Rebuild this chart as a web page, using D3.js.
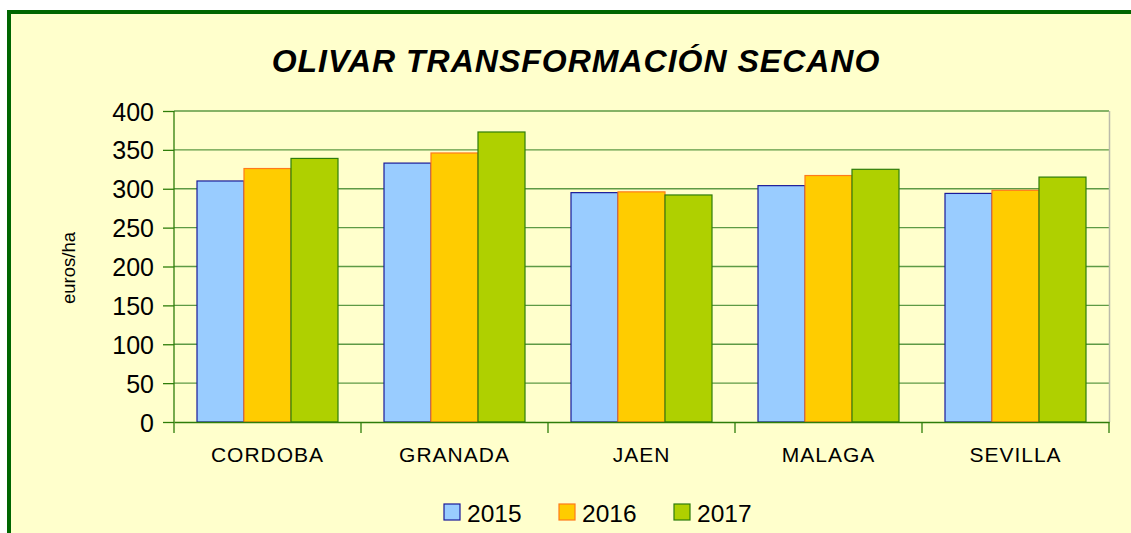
<!DOCTYPE html>
<html>
<head>
<meta charset="utf-8">
<script src="https://cdn.jsdelivr.net/npm/d3@7"></script>
<style>
  body { margin: 0; background: #fff; }
  svg { display: block; font-family: Arial, "Liberation Sans", sans-serif; }
</style>
</head>
<body>
<div class="chart"></div>
<script>
// chart data
const provincias = ['CORDOBA', 'GRANADA', 'JAEN', 'MALAGA', 'SEVILLA'];
const years = ['2015', '2016', '2017'];
const v2015 = [310, 333, 295, 304, 294];
const v2016 = [326, 346, 296, 317, 298];
const v2017 = [339, 373, 292, 325, 315];
const yTicks = [0, 50, 100, 150, 200, 250, 300, 350, 400];

const fills = ['#99CCFF', '#FFCC00', '#AFD000'];
const strokes = ['#1A1A99', '#FF7A1A', '#2E7D0A'];

const width = 1131, height = 533;
const svg = d3.select('.chart').append('svg').attr('width', width).attr('height', height);

// outer frame
svg.append('rect').attr('x', 9).attr('y', 12).attr('width', width + 20).attr('height', height + 20)
    .attr('fill', '#FFFFCC').attr('stroke', '#006600').attr('stroke-width', 4);

const plot = { left: 174, right: 1109, top: 111, bottom: 422 };

const x = d3.scaleBand().domain(provincias).range([plot.left, plot.right]);
const xi = d3.scaleBand().domain(years).range([0, 141]);
const y = d3.scaleLinear().domain([0, 400]).range([plot.bottom, plot.top]);

// gridlines
svg.append('g').selectAll('line').data(yTicks.filter(d => d > 0)).join('line')
    .attr('x1', plot.left).attr('x2', plot.right)
    .attr('y1', d => y(d)).attr('y2', d => y(d))
    .attr('stroke', '#5E9A45').attr('stroke-width', 1.3);

// right border of plot
svg.append('line').attr('x1', plot.right + 0.5).attr('x2', plot.right + 0.5)
    .attr('y1', plot.top).attr('y2', plot.bottom).attr('stroke', '#BBBBAA').attr('stroke-width', 1.5);

// bars
const series = [v2015, v2016, v2017];
series.forEach((vals, i) => {
    svg.append('g').selectAll('rect').data(vals).join('rect')
        .attr('x', (d, j) => x(provincias[j]) + 23 + xi(years[i]))
        .attr('y', d => y(d))
        .attr('width', xi.bandwidth())
        .attr('height', d => y(0) - y(d))
        .attr('fill', fills[i])
        .attr('stroke', strokes[i])
        .attr('stroke-width', 1.2);
});

// y axis
const yAxis = svg.append('g').attr('transform', `translate(${plot.left},0)`)
    .call(d3.axisLeft(y).tickValues(yTicks).tickSize(11).tickPadding(9));
yAxis.select('.domain').attr('stroke', '#2E7D0A').attr('stroke-width', 1.3)
    .attr('d', `M0,${plot.top}V${plot.bottom + 11}`);
yAxis.selectAll('.tick line').attr('stroke', '#2E7D0A').attr('stroke-width', 1.3);
yAxis.selectAll('.tick text').attr('font-size', 25).attr('fill', '#000').attr('dy', '0.36em');
yAxis.attr('font-family', null);

// x axis
const xAxis = svg.append('g').attr('transform', `translate(0,${plot.bottom})`)
    .call(d3.axisBottom(x).tickSize(0).tickPadding(0));
xAxis.select('.domain').attr('stroke', '#2E7D0A').attr('stroke-width', 1.3);
xAxis.selectAll('.tick text').attr('font-size', 21).attr('letter-spacing', 1)
    .attr('fill', '#000').attr('dy', null).attr('y', 40);
xAxis.attr('font-family', null);
// category separators
svg.append('g').selectAll('line').data(provincias).join('line')
    .attr('x1', d => x(d) + x.bandwidth()).attr('x2', d => x(d) + x.bandwidth())
    .attr('y1', plot.bottom).attr('y2', plot.bottom + 11)
    .attr('stroke', '#2E7D0A').attr('stroke-width', 1.3);

// title
svg.append('text').attr('x', 576).attr('y', 72).attr('text-anchor', 'middle')
    .attr('font-size', 32).attr('letter-spacing', 1).attr('font-weight', 'bold').attr('font-style', 'italic')
    .text('OLIVAR TRANSFORMACIÓN SECANO');

// y label
svg.append('text').attr('transform', 'translate(75,268) rotate(-90)')
    .attr('text-anchor', 'middle').attr('font-size', 18.5).text('euros/ha');

// legend
const legend = svg.append('g').selectAll('g').data(years).join('g')
    .attr('transform', (d, i) => `translate(${444 + i * 115},504)`);
legend.append('rect').attr('width', 16).attr('height', 16)
    .attr('fill', (d, i) => fills[i]).attr('stroke', (d, i) => strokes[i]).attr('stroke-width', 1.2);
legend.append('text').attr('x', 23).attr('y', 17.5).attr('font-size', 24.5).text(d => d);
</script>
</body>
</html>
